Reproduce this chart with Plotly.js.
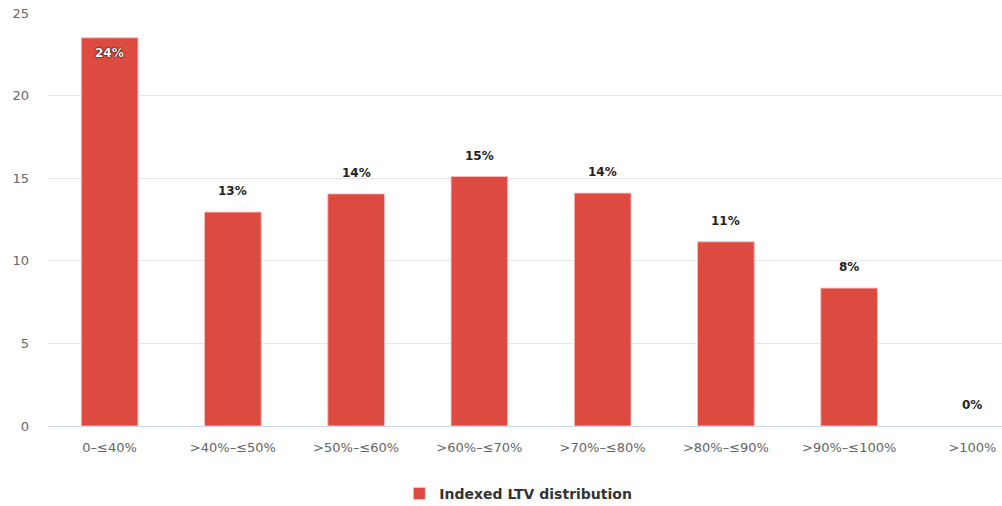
<!DOCTYPE html>
<html>
<head>
<meta charset="utf-8">
<script src="https://cdn.plot.ly/plotly-3.0.1.min.js"></script>
<style>html,body{margin:0;padding:0;background:#fff;overflow:hidden}#chart{width:1002px;height:506px}</style>
</head>
<body>
<div id="chart"></div>
<script>
const categories = ["0–≤40%", ">40%–≤50%", ">50%–≤60%", ">60%–≤70%", ">70%–≤80%", ">80%–≤90%", ">90%–≤100%", ">100%"];
const values = [23.5, 12.95, 14.05, 15.1, 14.1, 11.15, 8.35, 0];
const labels = ["24%", "13%", "14%", "15%", "14%", "11%", "8%", "0%"];
const seriesName = "Indexed LTV distribution";
const yTicks = [0, 5, 10, 15, 20, 25];

const font = "'DejaVu Sans', Verdana, sans-serif";
const trace = {
  type: "bar",
  x: categories,
  y: values,
  name: seriesName,
  marker: {color: "#dc4a40", line: {color: "rgba(255,190,190,0.9)", width: values.map(v => v > 0 ? 1 : 0)}},
  showlegend: true,
  hoverinfo: "none"
};

const annotations = categories.map((c, i) => i === 0 ? {
  x: c, y: values[i], text: labels[i], showarrow: false,
  yanchor: "top", yshift: -6,
  font: {family: font, size: 12, color: "#ffffff", weight: "bold", shadow: "0 0 2px #000, 0 0 1px #000"}
} : {
  x: c, y: values[i], text: labels[i], showarrow: false,
  yanchor: "bottom", yshift: 12,
  font: {family: font, size: 12, color: "#222222", weight: "bold"}
});

const layout = {
  width: 1002, height: 506,
  margin: {l: 48, r: 0, t: 13, b: 80},
  paper_bgcolor: "#ffffff", plot_bgcolor: "#ffffff",
  font: {family: font, size: 13, color: "#666666"},
  bargap: 0.54,
  annotations: annotations,
  xaxis: {
    type: "category",
    range: [-0.5, 7.24],
    showgrid: false,
    showline: true, linecolor: "#ccd6eb", linewidth: 1,
    ticks: "", ticklabelstandoff: 9,
    tickfont: {family: font, size: 13, color: "#666666"},
    fixedrange: true, zeroline: false
  },
  yaxis: {
    range: [0, 25],
    tickvals: yTicks,
    showgrid: true, gridcolor: "#e6e6e6", gridwidth: 1,
    zeroline: false, showline: false,
    ticks: "", ticklabelstandoff: 18,
    tickfont: {family: font, size: 13, color: "#666666"},
    fixedrange: true
  },
  legend: {
    orientation: "h", x: 0.493, xanchor: "center",
    yref: "container", y: 0.024, yanchor: "middle",
    font: {family: font, size: 14, color: "#333333", weight: "bold"}
  }
};

Plotly.newPlot("chart", [trace], layout, {displayModeBar: false, staticPlot: true});
</script>
</body>
</html>
